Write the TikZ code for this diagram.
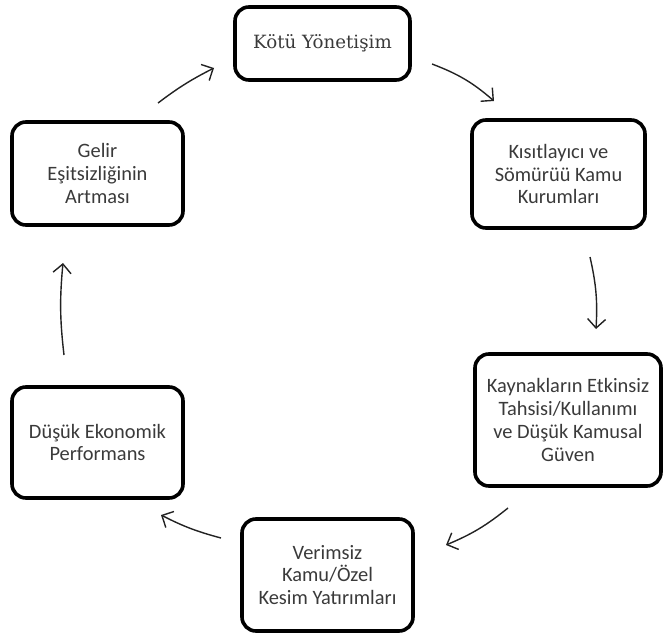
\documentclass[tikz,border=0pt]{standalone}
\usepackage{fontspec}
\setmainfont{Carlito}
\newfontfamily\serifcap{DejaVu Serif}
\usetikzlibrary{arrows.meta}
\definecolor{txtgray}{HTML}{3A3A3A}
\definecolor{arrgray}{HTML}{222222}
\begin{document}
\begin{tikzpicture}[x=1bp,y=-1bp,
  cyclebox/.style={draw=black, line width=3.6bp, rounded corners=14bp, inner sep=0pt,
    align=center, text=txtgray, font=\fontsize{20.5}{23}\selectfont},
  cyclearrow/.style={draw=arrgray, line width=1.4bp,
    -{Straight Barb[length=9bp,width=18bp,line width=1.4bp]}}]
\useasboundingbox (0,0) rectangle (665,638);
\node[cyclebox, minimum width=175bp, minimum height=73bp] (top) at (322.5,43.5)
  {\serifcap\fontsize{18.3}{22}\selectfont Kötü Yönetişim};
\node[cyclebox, minimum width=173bp, minimum height=108bp] (rtop) at (558.5,174)
  {Kısıtlayıcı ve\\Sömürüü Kamu\\Kurumları};
\node[cyclebox, minimum width=186bp, minimum height=132bp] (rbot) at (568,420)
  {Kaynakların Etkinsiz\\Tahsisi/Kullanımı\\ve Düşük Kamusal\\Güven};
\node[cyclebox, minimum width=171bp, minimum height=112bp] (bot) at (327.5,575)
  {Verimsiz\\Kamu/Özel\\Kesim Yatırımları};
\node[cyclebox, minimum width=171bp, minimum height=111bp] (lbot) at (97.5,442.5)
  {Düşük Ekonomik\\Performans};
\node[cyclebox, minimum width=171bp, minimum height=103bp] (ltop) at (97.5,173.5)
  {Gelir\\Eşitsizliğinin\\Artması};
\coordinate (a1s) at (432,64);
\coordinate (a1e) at (494,101);
\coordinate (a2s) at (590,257);
\coordinate (a2e) at (596,329);
\coordinate (a3s) at (508,508);
\coordinate (a3e) at (446,545);
\coordinate (a4s) at (221,538);
\coordinate (a4e) at (161,515);
\coordinate (a5s) at (64,355);
\coordinate (a5e) at (63,263);
\coordinate (a6s) at (158,103);
\coordinate (a6e) at (214,68);
\draw[cyclearrow] (a1s) to[bend left=10] (a1e);
\draw[cyclearrow] (a2s) to[bend left=8] (a2e);
\draw[cyclearrow] (a3s) to[bend left=8] (a3e);
\draw[cyclearrow] (a4s) to[bend left=6] (a4e);
\draw[cyclearrow] (a5s) to[bend left=6] (a5e);
\draw[cyclearrow] (a6s) to[bend left=5] (a6e);
\end{tikzpicture}
\end{document}
